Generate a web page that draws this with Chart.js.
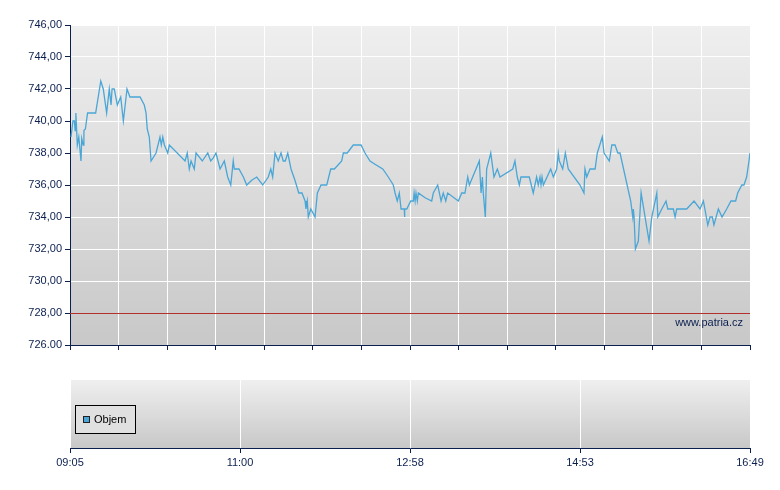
<!DOCTYPE html>
<html lang="cs">
<head>
  <meta charset="UTF-8" />
  <title>Intradenní graf</title>
  <script src="https://cdn.jsdelivr.net/npm/chart.js"></script>
  <style>
    * { box-sizing: border-box; margin: 0; padding: 0; }
    body { background: #fff; width: 780px; height: 490px; position: relative; overflow: hidden; }
    #priceChart { position: absolute; left: 0; top: 0; }
    #volumeChart { position: absolute; left: 0; top: 360px; }
  </style>
</head>
<body>

<canvas id="priceChart" width="780" height="360"></canvas>
<canvas id="volumeChart" width="780" height="130"></canvas>

<script>
  // minutes since 09:05
  const times = [
    0.7,2,3,3.5,4,5,6,7.5,8,9,
    9.5,10.5,12,17.5,21,22.7,25,26.8,28,28.7,
    30.2,32.3,34.6,36.4,38.9,40.9,47.8,50.7,51.9,52.7,
    54.1,55.3,58.7,61.4,62.3,63.3,64.4,66.7,67.8,78.5,
    80,81.4,82.6,84.8,86,90.3,94,96,97.8,99.6,
    102.4,105.3,107.6,109.7,111.4,112.1,115.3,118.3,120.6,124,
    127.4,131.5,135.3,137,138.3,139.9,142.1,144,145.5,146.9,
    148.6,150.8,153.5,156.1,158.3,160.4,161,161.9,162.6,164.3,
    167.2,168.8,171.3,175.2,177.9,180.4,185.4,186.5,189.2,193.3,
    198.6,201.3,204.7,208.1,213.4,217.2,220.6,221.8,223.3,224.7,
    225.9,228.1,228.3,228.4,229.8,232.5,234.3,234.8,235.5,236.1,
    237,237.7,242.3,246.8,247.9,250.9,253.2,254.7,256.4,257.7,
    265,267.3,269.5,271.4,272.5,279.3,280.5,281.4,282,283.4,
    284.3,287.1,289.3,291.6,293.4,302.1,303.6,305.2,306.6,307.7,
    313.4,316.1,318.4,319.5,320.7,321.4,322.1,323,328,329.8,
    332.1,333.2,333.9,336.2,338,340,348,350.7,351.4,352.6,
    354.8,358.3,359.8,363.2,364.4,368,369.7,371.9,373.8,375.3,
    382.6,384,384.4,384.9,385.8,387.8,389.7,395.1,397,400.4,
    401.1,403.8,406.7,407.9,411.7,412.9,414,420.8,425.8,429.9,
    432.2,435.2,436.7,438.3,439.4,442.4,444.9,448.1,451,454.2,
    455.6,458.4,459.9,461.7,463.3,464
  ];

  const prices = [
    739.0,740.0,740.0,739.4,740.5,738.5,739.0,737.5,738.9,738.5,
    739.4,739.5,740.5,740.5,742.5,742.0,740.5,742.0,741.0,742.0,
    742.0,741.0,741.5,740.0,742.0,741.5,741.5,741.0,740.5,739.5,
    739.0,737.5,738.0,739.0,738.5,739.0,738.5,738.0,738.5,737.5,
    738.0,737.0,737.5,737.0,738.0,737.5,738.0,737.5,737.7,738.0,
    737.0,737.5,736.5,736.0,737.5,737.0,737.0,736.5,736.0,736.3,
    736.5,736.0,736.5,737.0,736.5,738.0,737.5,738.0,737.5,737.5,
    738.0,737.0,736.3,735.5,735.5,735.0,734.5,735.0,734.0,734.5,
    734.0,735.5,736.0,736.0,737.0,737.0,737.5,738.0,738.0,738.5,
    738.5,738.0,737.5,737.3,737.0,736.5,736.0,735.5,735.0,735.5,
    734.5,734.5,734.0,734.5,734.5,735.0,735.0,735.5,735.0,735.5,
    735.0,735.5,735.2,735.0,735.5,736.0,735.0,735.5,735.0,735.5,
    735.0,735.5,735.5,736.5,736.0,737.5,735.5,736.5,735.5,734.0,
    737.0,738.0,736.5,737.0,736.5,737.0,737.5,736.5,736.0,736.5,
    736.5,735.5,736.5,736.0,736.5,736.0,736.5,736.0,737.0,736.5,
    737.0,738.0,737.5,737.0,738.0,737.0,736.0,735.5,737.0,736.5,
    737.0,737.0,738.0,739.0,738.0,737.5,738.5,738.5,738.0,738.0,
    735.0,734.0,734.5,734.0,732.0,732.5,735.5,732.5,734.0,735.5,
    734.0,734.5,735.0,734.5,734.5,734.0,734.5,734.5,735.0,734.5,
    735.0,733.5,734.0,734.0,733.5,734.5,734.0,734.5,735.0,735.0,
    735.5,736.0,736.0,736.5,737.5,738.0
  ];

  const prevClose = 728;
  const sessionLength = 464; // 09:05 -> 16:49
  const yTickLabels = ['726.00','728,00','730,00','732,00','734,00','736,00','738,00','740,00','742,00','744,00','746,00'];
  const xTickLabels = ['09:05','11:00','12:58','14:53','16:49'];
  const volumeLabel = 'Objem';

  const NAVY = '#0b1f4f';
  const FONT = { family: '"Liberation Sans", Arial, sans-serif', size: 11 };

  // grey gradient behind the plot area
  const panelBackground = {
    id: 'panelBackground',
    beforeDraw(chart) {
      const { ctx, chartArea: a } = chart;
      const g = ctx.createLinearGradient(0, a.top, 0, a.bottom);
      g.addColorStop(0, '#efefef');
      g.addColorStop(1, '#c8c8c8');
      ctx.save();
      ctx.fillStyle = g;
      ctx.fillRect(a.left, a.top, a.right - a.left, a.bottom - a.top);
      ctx.restore();
    }
  };

  // shift the reference line half a pixel so it stays crisp
  const crispRefLine = {
    id: 'crispRefLine',
    beforeDatasetDraw(chart, args) {
      if (args.index === 1) { chart.ctx.save(); chart.ctx.translate(0, 0.5); }
    },
    afterDatasetDraw(chart, args) {
      if (args.index === 1) chart.ctx.restore();
    }
  };

  const watermark = {
    id: 'watermark',
    afterDatasetsDraw(chart) {
      const { ctx, chartArea: a } = chart;
      ctx.save();
      ctx.font = '11px "Liberation Sans", Arial, sans-serif';
      ctx.fillStyle = NAVY;
      ctx.textAlign = 'right';
      ctx.textBaseline = 'middle';
      ctx.fillText('www.patria.cz', a.right - 7, a.bottom - 22);
      ctx.restore();
    }
  };

  // boxed legend in the lower panel
  const volumeLegend = {
    id: 'volumeLegend',
    afterDraw(chart) {
      const { ctx, chartArea: a } = chart;
      const x = a.left + 5, y = a.top + 25;
      ctx.save();
      ctx.fillStyle = '#e0e0e0';
      ctx.fillRect(x, y, 60, 28);
      ctx.strokeStyle = '#000';
      ctx.lineWidth = 1;
      ctx.strokeRect(x + 0.5, y + 0.5, 60, 28);
      ctx.fillStyle = chart.data.datasets[0].backgroundColor;
      ctx.fillRect(x + 8, y + 11, 7, 7);
      ctx.strokeStyle = '#222';
      ctx.strokeRect(x + 8.5, y + 11.5, 6, 6);
      ctx.fillStyle = '#000';
      ctx.font = '11px "Liberation Sans", Arial, sans-serif';
      ctx.textBaseline = 'middle';
      ctx.fillText(chart.data.datasets[0].label, x + 19, y + 15);
      ctx.restore();
    }
  };

  function renderPriceChart() {
    const ctx = document.getElementById('priceChart').getContext('2d');
    new Chart(ctx, {
      type: 'line',
      data: {
        datasets: [
          {
            data: times.map((t, i) => ({ x: t, y: prices[i] })),
            borderColor: '#4aa6d6',
            borderWidth: 1.3,
            pointRadius: 0,
            tension: 0
          },
          {
            data: [{ x: 0, y: prevClose }, { x: sessionLength, y: prevClose }],
            borderColor: '#b3302c',
            borderWidth: 1,
            pointRadius: 0
          }
        ]
      },
      options: {
        responsive: false,
        animation: false,
        devicePixelRatio: 1,
        layout: { padding: { left: 0, right: 30, top: 25, bottom: 0 } },
        plugins: { legend: { display: false }, tooltip: { enabled: false } },
        scales: {
          x: {
            type: 'linear',
            min: 0,
            max: sessionLength,
            afterBuildTicks: (scale) => {
              scale.ticks = Array.from({ length: 15 }, (_, i) => ({ value: i * sessionLength / 14 }));
            },
            afterFit: (scale) => { scale.height = 15; },
            ticks: { display: false },
            grid: { color: '#ffffff', tickColor: NAVY, tickLength: 5 },
            border: { color: NAVY, width: 1 }
          },
          y: {
            min: 726,
            max: 746,
            ticks: {
              stepSize: 2,
              color: NAVY,
              font: FONT,
              padding: 3,
              callback: (v, i) => yTickLabels[i]
            },
            afterFit: (scale) => { scale.width = 70; },
            grid: { color: '#ffffff', tickColor: NAVY, tickLength: 5 },
            border: { color: NAVY, width: 1 }
          }
        }
      },
      plugins: [panelBackground, crispRefLine, watermark]
    });
  }

  function renderVolumeChart() {
    const ctx = document.getElementById('volumeChart').getContext('2d');
    new Chart(ctx, {
      type: 'bar',
      data: {
        datasets: [{ label: volumeLabel, data: [], backgroundColor: '#4aa6d6' }]
      },
      options: {
        responsive: false,
        animation: false,
        devicePixelRatio: 1,
        layout: { padding: { left: 70, right: 30, top: 20, bottom: 12 } },
        plugins: { legend: { display: false }, tooltip: { enabled: false } },
        scales: {
          x: {
            type: 'linear',
            offset: false,
            min: 0,
            max: sessionLength,
            afterBuildTicks: (scale) => {
              scale.ticks = xTickLabels.map((_, i) => ({ value: i * sessionLength / (xTickLabels.length - 1) }));
            },
            afterFit: (scale) => { scale.height = 30; },
            ticks: {
              color: NAVY,
              font: FONT,
              padding: 3,
              maxRotation: 0,
              callback: (v, i) => xTickLabels[i]
            },
            grid: { offset: false, color: '#ffffff', tickColor: NAVY, tickLength: 5 },
            border: { color: NAVY, width: 1 }
          },
          y: { display: false, min: 0, max: 1 }
        }
      },
      plugins: [panelBackground, volumeLegend]
    });
  }

  renderPriceChart();
  renderVolumeChart();
</script>

</body>
</html>
